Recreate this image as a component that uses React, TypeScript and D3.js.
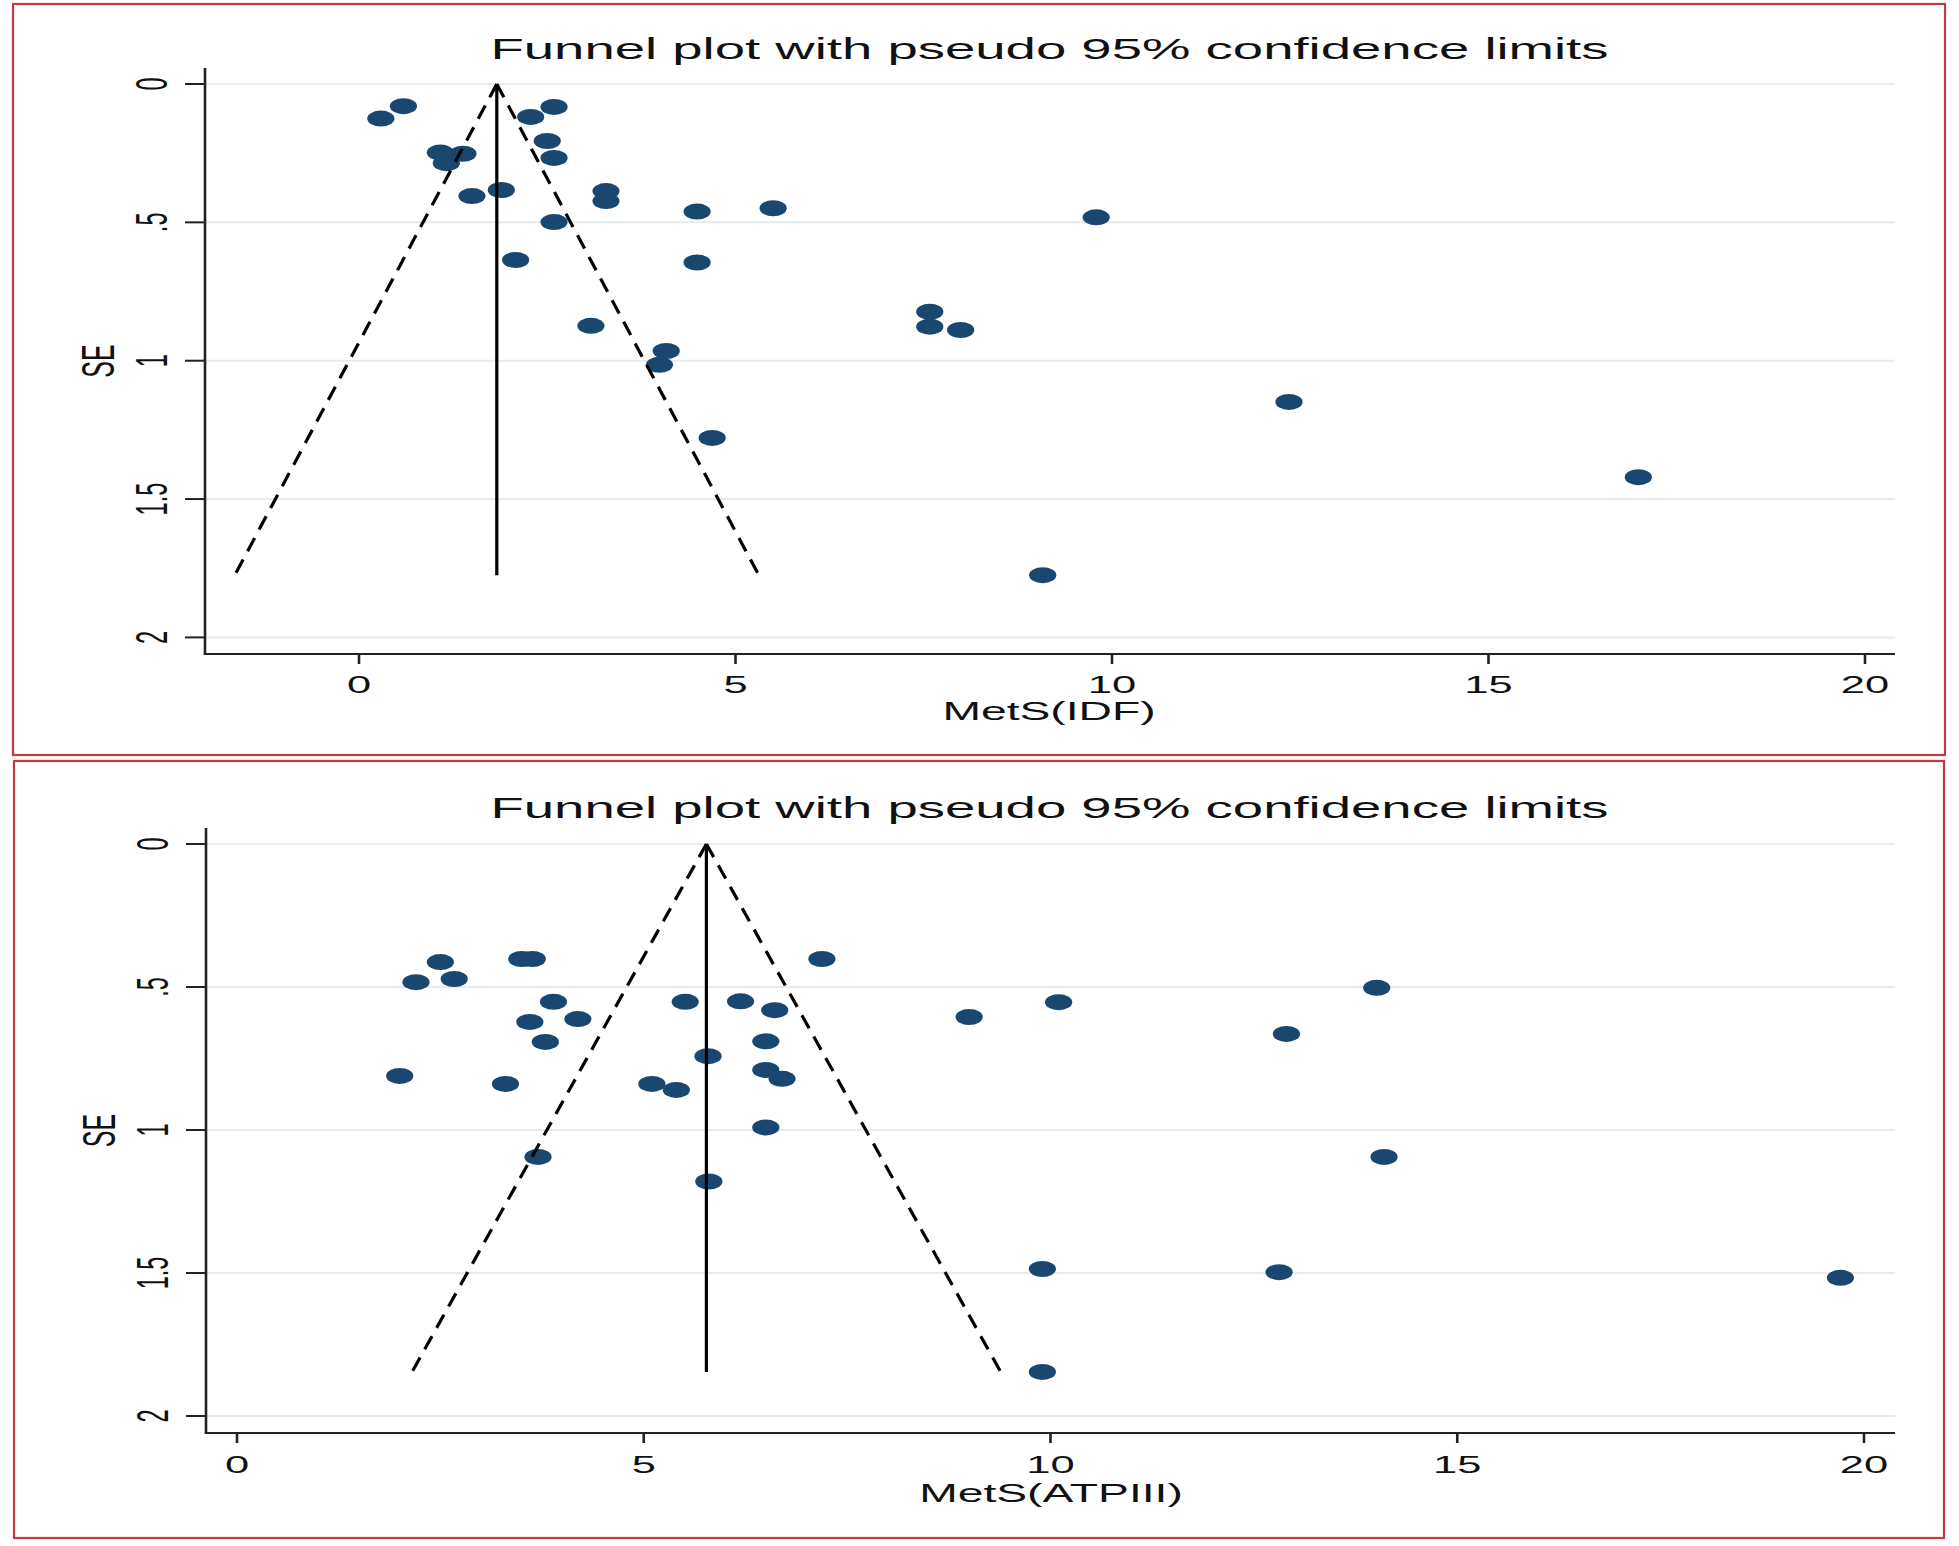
import React, { useEffect } from "react";
import * as d3 from "d3";

// ---- data ----
const xTicks = [0, 5, 10, 15, 20];
const yTicks = [0, 0.5, 1, 1.5, 2];
const yTickLabels = ["0", ".5", "1", "1.5", "2"];
const chartTitle = "Funnel plot with pseudo 95% confidence limits";
const yTitle = "SE";

// Panel 1: MetS(IDF)
const idfEffect = [0.29, 0.59, 1.08, 1.38, 1.16, 1.5, 1.89, 2.28, 2.59, 2.5, 2.59, 2.59, 2.08, 3.28, 3.28, 4.49, 5.5, 9.79, 4.49, 3.08, 4.08, 3.99, 4.69, 7.58, 7.58, 7.99, 12.35, 16.99, 9.08];
const idfSE = [0.125, 0.08, 0.248, 0.252, 0.286, 0.405, 0.383, 0.119, 0.083, 0.206, 0.267, 0.499, 0.636, 0.387, 0.423, 0.461, 0.449, 0.482, 0.645, 0.874, 0.965, 1.015, 1.279, 0.823, 0.877, 0.889, 1.149, 1.421, 1.775];
const idfPooled = 1.83;
const idfMaxSE = 1.775;

// Panel 2: MetS(ATPIII)
const atpEffect = [2.5, 2.2, 2.67, 3.5, 3.63, 3.89, 3.6, 4.19, 3.79, 2.0, 3.3, 3.7, 5.51, 5.1, 5.4, 5.79, 5.8, 6.19, 6.61, 6.5, 6.5, 6.7, 6.5, 7.19, 9.0, 10.1, 9.9, 9.9, 12.9, 12.81, 14.01, 14.1, 19.71];
const atpSE = [0.413, 0.483, 0.472, 0.402, 0.402, 0.552, 0.622, 0.612, 0.692, 0.811, 0.839, 1.094, 0.552, 0.839, 0.86, 0.742, 1.18, 0.55, 0.581, 0.69, 0.79, 0.821, 0.991, 0.402, 0.605, 0.553, 1.486, 1.846, 0.664, 1.497, 0.503, 1.094, 1.517];
const atpPooled = 5.77;
const atpMaxSE = 1.846;

const FONT = "'Liberation Sans', Arial, Helvetica, sans-serif";
const NAVY = "#1a476f";
const GRID = "#e4ecef";
const SX = 1.85; // horizontal stretch of the original picture

type Layout = {
  box: [number, number, number, number];
  axisX: number; // x of y-axis line
  axisRight: number;
  axisTop: number;
  axisBottom: number; // y of x-axis line
  x0: number; x20: number;
  y0: number; y2: number;
  titleY: number;
  xTickLabelY: number;
  xTitleY: number;
  xTitleX: number;
};

function Panel({ effects, ses, pooled, maxSE, xLabel, L }: {
  effects: number[]; ses: number[]; pooled: number; maxSE: number; xLabel: string; L: Layout;
}) {
  const x = d3.scaleLinear().domain([0, 20]).range([L.x0, L.x20]);
  const y = d3.scaleLinear().domain([0, 2]).range([L.y0, L.y2]);
  const z = 1.96;
  const line = d3.line<[number, number]>().x(d => x(d[0])).y(d => y(d[1]));
  const lower: [number, number][] = [[pooled, 0], [pooled - z * maxSE, maxSE]];
  const upper: [number, number][] = [[pooled, 0], [pooled + z * maxSE, maxSE]];
  const mid: [number, number][] = [[pooled, 0], [pooled, maxSE]];
  const [bx, by, bw, bh] = L.box;
  const plotMidY = (L.axisTop + L.axisBottom) / 2;
  return (
    <g>
      <rect x={bx} y={by} width={bw} height={bh} fill="#ffffff" stroke="#bf3b40" strokeWidth={2.2} />
      {/* gridlines */}
      {yTicks.map(t => (
        <line key={"g" + t} x1={L.axisX} x2={L.axisRight} y1={y(t)} y2={y(t)} stroke={GRID} strokeWidth={2} />
      ))}
      {/* markers */}
      {effects.map((e, i) => (
        <ellipse key={"p" + i} cx={x(e)} cy={y(ses[i])} rx={13.6} ry={8} fill={NAVY} />
      ))}
      {/* funnel */}
      <path d={line(lower) || ""} fill="none" stroke="#000" strokeWidth={3.2} strokeDasharray="15 9.5" />
      <path d={line(upper) || ""} fill="none" stroke="#000" strokeWidth={3.2} strokeDasharray="15 9.5" />
      <path d={line(mid) || ""} fill="none" stroke="#000" strokeWidth={3.2} />
      {/* axes */}
      <line x1={L.axisX} x2={L.axisX} y1={L.axisTop} y2={L.axisBottom} stroke="#222" strokeWidth={2.6} />
      <line x1={L.axisX - 1.3} x2={L.axisRight} y1={L.axisBottom} y2={L.axisBottom} stroke="#222" strokeWidth={2} />
      {yTicks.map((t, i) => (
        <g key={"yt" + t}>
          <line x1={L.axisX - 20} x2={L.axisX} y1={y(t)} y2={y(t)} stroke="#222" strokeWidth={2} />
          <text transform={`translate(${L.axisX - 38},${y(t)}) scale(${SX},1) rotate(-90)`} textAnchor="middle"
            fontFamily={FONT} fontSize={23.5} fill="#111">{yTickLabels[i]}</text>
        </g>
      ))}
      {xTicks.map(t => (
        <g key={"xt" + t}>
          <line x1={x(t)} x2={x(t)} y1={L.axisBottom} y2={L.axisBottom + 10} stroke="#222" strokeWidth={2.6} />
          <text transform={`translate(${x(t)},${L.xTickLabelY}) scale(${SX},1)`} textAnchor="middle"
            fontFamily={FONT} fontSize={23.5} fill="#111">{String(t)}</text>
        </g>
      ))}
      <text transform={`translate(${L.axisX - 91},${plotMidY}) scale(${SX},1) rotate(-90)`} textAnchor="middle"
        fontFamily={FONT} fontSize={25} fill="#111">{yTitle}</text>
      <text transform={`translate(${L.xTitleX},${L.xTitleY}) scale(${SX},1)`} textAnchor="middle"
        fontFamily={FONT} fontSize={25} fill="#111">{xLabel}</text>
      <text transform={`translate(1049.5,${L.titleY}) scale(1.88,1)`} textAnchor="middle"
        fontFamily={FONT} fontSize={29} fill="#111">{chartTitle}</text>
    </g>
  );
}

const topLayout: Layout = {
  box: [13, 4, 1932, 751],
  axisX: 205, axisRight: 1895, axisTop: 68, axisBottom: 654,
  x0: 359, x20: 1865, y0: 84, y2: 637.4,
  titleY: 58.5, xTickLabelY: 693, xTitleY: 720, xTitleX: 1049,
};
const bottomLayout: Layout = {
  box: [14, 761, 1930, 777],
  axisX: 206, axisRight: 1895, axisTop: 828, axisBottom: 1433,
  x0: 237, x20: 1864, y0: 844, y2: 1416,
  titleY: 818, xTickLabelY: 1473, xTitleY: 1502, xTitleX: 1051,
};

export default function App() {
  useEffect(() => {
    document.body.style.margin = "0";
    document.body.style.background = "#ffffff";
  }, []);
  return (
    <svg width={1959} height={1546} viewBox="0 0 1959 1546" style={{ display: "block", background: "#fff" }}>
      <Panel effects={idfEffect} ses={idfSE} pooled={idfPooled} maxSE={idfMaxSE} xLabel="MetS(IDF)" L={topLayout} />
      <Panel effects={atpEffect} ses={atpSE} pooled={atpPooled} maxSE={atpMaxSE} xLabel="MetS(ATPIII)" L={bottomLayout} />
    </svg>
  );
}
